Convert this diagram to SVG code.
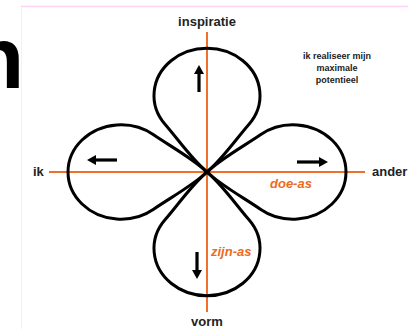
<svg xmlns="http://www.w3.org/2000/svg" width="408" height="329" viewBox="0 0 408 329">
  <style>
    .lobe { fill: none; stroke: #000; stroke-width: 3; stroke-linejoin: round; }
    .axis { stroke: #F0702A; stroke-width: 2; }
    .arrow { stroke: #000; stroke-width: 3.2; marker-end: url(#head); }
    .lbl { font-family: "Liberation Sans", Arial, sans-serif; font-weight: bold; font-size: 13px; fill: #222; }
    .as { font-family: "Liberation Sans", Arial, sans-serif; font-weight: bold; font-style: italic; font-size: 13px; fill: #EE6A1F; }
    .note { font-family: "Liberation Sans", Arial, sans-serif; font-weight: bold; font-size: 9px; fill: #222; text-anchor: middle; }
  </style>
  <defs>
    <marker id="head" viewBox="0 0 9 10" refX="0" refY="5" markerWidth="9" markerHeight="10" markerUnits="userSpaceOnUse" orient="auto">
      <path d="M0,0 L9,5 L0,10 Z" fill="#000"/>
    </marker>
    <path id="petal" d="M0,0 C-15,-14 -29.5,-37.6 -41.8,-53.4 A53,53 0 1 1 41.8,-53.4 C29.5,-37.6 15,-14 0,0 Z" vector-effect="non-scaling-stroke"/>
  </defs>
  <rect x="0" y="0" width="408" height="329" fill="#fff"/>
  <text x="-29" y="88" font-family="Liberation Sans, Arial, sans-serif" font-weight="bold" font-size="87" fill="#000">n</text>
  <line x1="21" y1="6.5" x2="408" y2="6.5" stroke="#FFD2F3" stroke-width="1.5"/>
  <line x1="21.5" y1="7" x2="21.5" y2="329" stroke="#F2F2F2" stroke-width="1"/>

  <g id="connectors">
    <line class="axis" x1="207" y1="32" x2="207" y2="312"/>
    <line class="axis" x1="49" y1="172" x2="365" y2="172"/>
  </g>

  <g id="lobe-top">
    <use href="#petal" class="lobe" transform="translate(207,172) scale(1,0.89)"/>
    <line class="arrow" x1="199" y1="92" x2="199" y2="74"/>
  </g>
  <g id="lobe-bottom">
    <use href="#petal" class="lobe" transform="translate(207,172) scale(1,-0.89)"/>
    <line class="arrow" x1="197" y1="252" x2="197" y2="270"/>
  </g>
  <g id="lobe-left">
    <use href="#petal" class="lobe" transform="translate(207,172) scale(1,0.89) rotate(-90)"/>
    <line class="arrow" x1="117" y1="160" x2="96" y2="160"/>
  </g>
  <g id="lobe-right">
    <use href="#petal" class="lobe" transform="translate(207,172) scale(1,0.89) rotate(90)"/>
    <line class="arrow" x1="297" y1="162" x2="319" y2="162"/>
  </g>

  <g id="labels">
    <text class="lbl" x="207" y="26" text-anchor="middle">inspiratie</text>
    <text class="lbl" x="33" y="176">ik</text>
    <text class="lbl" x="372" y="176">ander</text>
    <text class="lbl" x="207" y="326" text-anchor="middle">vorm</text>
    <text class="as" x="270" y="188">doe-as</text>
    <text class="as" x="211" y="256">zijn-as</text>
  </g>
  <g id="note">
    <text class="note" x="337" y="59">ik realiseer mijn</text>
    <text class="note" x="337" y="71">maximale</text>
    <text class="note" x="337" y="83">potentieel</text>
  </g>
</svg>
